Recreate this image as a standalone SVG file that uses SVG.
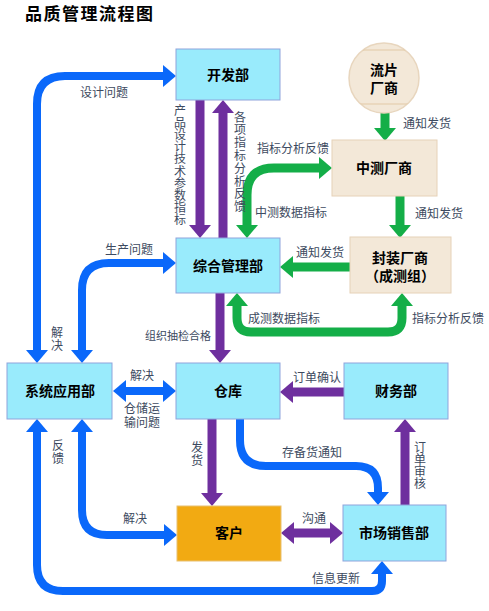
<svg xmlns="http://www.w3.org/2000/svg" width="489" height="611" viewBox="0 0 489 611">
<style>
.title{font-family:"Noto Sans CJK SC",sans-serif;font-size:17px;font-weight:bold;fill:#000;letter-spacing:1.5px;}
.nt{font-family:"Noto Sans CJK SC",sans-serif;font-size:14px;font-weight:bold;fill:#000;text-anchor:middle;}
.lb{font-family:"Noto Sans CJK SC",sans-serif;font-size:12px;fill:#3D4A60;}
.vl{font-family:"Noto Sans CJK SC",sans-serif;font-size:12px;fill:#3D4A60;writing-mode:vertical-rl;text-orientation:upright;}
.box{fill:#99EBFC;stroke:#8FA4DC;stroke-width:1;}
.beige{fill:#F3E8D8;stroke:#E6D2B8;stroke-width:1;}
.blue{fill:none;stroke:#0A68FA;stroke-width:8;marker-end:url(#hb);}
.purple{fill:none;stroke:#6E2F9E;stroke-width:9;marker-end:url(#hp);}
.green{fill:none;stroke:#14AE48;stroke-width:9;marker-end:url(#hg);}
</style>
<defs>
<marker id="hb" viewBox="0 -11 13 22" refX="0" refY="0" markerWidth="13" markerHeight="22" markerUnits="userSpaceOnUse" orient="auto-start-reverse"><path d="M0,-11 L13,0 L0,11 z" fill="#0A68FA"/></marker>
<marker id="hp" viewBox="0 -11 13 22" refX="0" refY="0" markerWidth="13" markerHeight="22" markerUnits="userSpaceOnUse" orient="auto-start-reverse"><path d="M0,-11 L13,0 L0,11 z" fill="#6E2F9E"/></marker>
<marker id="hg" viewBox="0 -11 13 22" refX="0" refY="0" markerWidth="13" markerHeight="22" markerUnits="userSpaceOnUse" orient="auto-start-reverse"><path d="M0,-11 L13,0 L0,11 z" fill="#14AE48"/></marker>
<clipPath id="cc"><circle cx="384" cy="78" r="35"/></clipPath>
</defs>
<rect width="489" height="611" fill="#fff"/>
<text class="title" x="25" y="20">品质管理流程图</text>

<g id="connectors">
<path class="blue" style="marker-start:url(#hb)" d="M37,350 V104 Q37,76 65,76 H163"/>
<path class="blue" style="marker-start:url(#hb)" d="M82,350 V290 Q82,263 109,263 H163"/>
<path class="blue" style="marker-start:url(#hb)" d="M126,391 H163"/>
<path class="blue" style="marker-start:url(#hb)" d="M37,432 V565 Q37,591 63,591 H372 Q382,591 382,581 V574"/>
<path class="blue" style="marker-start:url(#hb)" d="M82,432 V510 Q82,535 107,535 H164"/>
<path class="blue" d="M240,419 V440 Q240,466 266,466 H356 Q378,466 378,488 V492"/>
<path class="purple" d="M200,100 V225"/>
<path class="purple" d="M223,238 V113"/>
<path class="purple" d="M220,293 V350"/>
<path class="purple" d="M344,392 H293"/>
<path class="purple" d="M405,505 V432"/>
<path class="purple" d="M212,419 V493"/>
<path class="purple" style="marker-start:url(#hp)" d="M294,533 H330"/>
<path class="green" d="M385,113 V128"/>
<path class="green" d="M400,196 V225"/>
<path class="green" d="M350,267 H293"/>
<path class="green" style="marker-start:url(#hg)" d="M247,225 V195 Q247,168 274,168 H319"/>
<path class="green" style="marker-start:url(#hg)" d="M237,306 V318 Q237,332 251,332 H388 Q402,332 402,318 V306"/>
</g>

<g id="labels">
<text class="lb" x="80" y="97">设计问题</text>
<text class="lb" x="105" y="254">生产问题</text>
<text class="vl" x="57" y="326" style="letter-spacing:1px">解决</text>
<text class="lb" x="257" y="153">指标分析反馈</text>
<text class="lb" x="255" y="217">中测数据指标</text>
<text class="lb" x="403" y="128">通知发货</text>
<text class="lb" x="415" y="218">通知发货</text>
<text class="lb" x="296" y="257">通知发货</text>
<text class="lb" x="248" y="323">成测数据指标</text>
<text class="lb" x="412" y="323">指标分析反馈</text>
<text class="lb" x="145" y="340" style="font-size:11px">组织抽检合格</text>
<text class="lb" x="130" y="380">解决</text>
<text class="lb"><tspan x="124" y="413">仓储运</tspan><tspan x="124" y="427">输问题</tspan></text>
<text class="vl" x="58" y="439" style="letter-spacing:1px">反馈</text>
<text class="vl" x="197" y="441" style="letter-spacing:1px">发货</text>
<text class="lb" x="293" y="382">订单确认</text>
<text class="lb" x="282" y="457">存备货通知</text>
<text class="vl" x="420" y="441" style="letter-spacing:0.3px">订单审核</text>
<text class="lb" x="123" y="523">解决</text>
<text class="lb" x="302" y="523">沟通</text>
<text class="lb" x="312" y="583">信息更新</text>
<text class="vl" x="180" y="104" style="letter-spacing:0.2px">产品设计技术参数指标</text>
<text class="vl" x="240" y="111" style="letter-spacing:0.8px">各项指标分析反馈</text>
</g>

<g id="node-kaifa"><rect class="box" x="176" y="49" width="104" height="51"/><text class="nt" x="228" y="80">开发部</text></g>
<g id="node-liupian">
<circle cx="384" cy="78" r="35" fill="#F3E8D8" stroke="#E8D6BE" stroke-width="1.5"/>
<g clip-path="url(#cc)" stroke="#E2C9A6" stroke-width="1"><line x1="340" y1="50" x2="430" y2="50"/><line x1="340" y1="104" x2="430" y2="104"/></g>
<text class="nt"><tspan x="384" y="75">流片</tspan><tspan x="384" y="93">厂商</tspan></text>
</g>
<g id="node-zhongce"><rect class="beige" x="332" y="140" width="105" height="56"/><text class="nt" x="384" y="173">中测厂商</text></g>
<g id="node-fengzhuang"><rect class="beige" x="350" y="237" width="101" height="56"/><text class="nt"><tspan x="400" y="263">封装厂商</tspan><tspan x="400" y="281">（成测组）</tspan></text></g>
<g id="node-zonghe"><rect class="box" x="176" y="238" width="104" height="55"/><text class="nt" x="228" y="271">综合管理部</text></g>
<g id="node-xitong"><rect class="box" x="7" y="363" width="105" height="56"/><text class="nt" x="60" y="396">系统应用部</text></g>
<g id="node-cangku"><rect class="box" x="176" y="363" width="104" height="56"/><text class="nt" x="228" y="396">仓库</text></g>
<g id="node-caiwu"><rect class="box" x="344" y="363" width="104" height="56"/><text class="nt" x="396" y="396">财务部</text></g>
<g id="node-kehu"><rect x="177" y="506" width="104" height="55" fill="#F2AA12" stroke="#E8C070" stroke-width="1"/><text class="nt" x="229" y="538">客户</text></g>
<g id="node-shichang"><rect class="box" x="343" y="505" width="103" height="56"/><text class="nt" x="394" y="538">市场销售部</text></g>
</svg>
